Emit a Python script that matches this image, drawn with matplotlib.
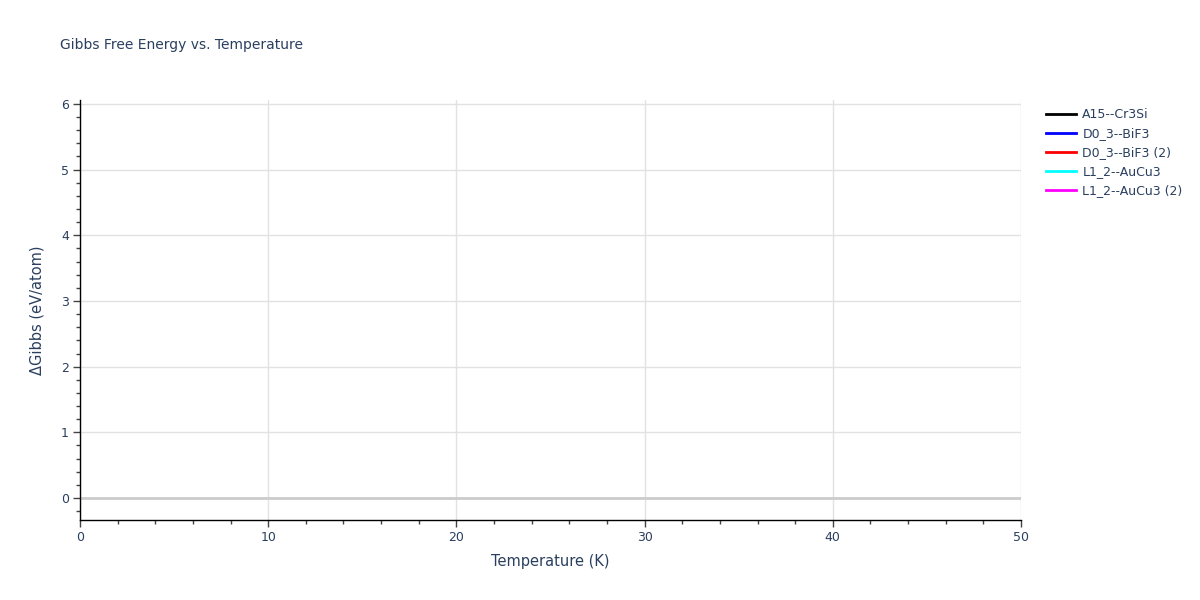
import matplotlib.pyplot as plt
from matplotlib.ticker import MultipleLocator

# series shown in the legend; the reference draws no visible data for them
series_names = ["A15--Cr3Si", "D0_3--BiF3", "D0_3--BiF3 (2)",
                "L1_2--AuCu3", "L1_2--AuCu3 (2)"]
series_colors = ["black", "blue", "red", "cyan", "magenta"]
temperature = []
gibbs = [[], [], [], [], []]

x_ticks = [0, 10, 20, 30, 40, 50]
y_ticks = [0, 1, 2, 3, 4, 5, 6]

TEXT = "#2a3f5f"
GRID = "#e2e2e2"

fig = plt.figure(figsize=(12, 6), dpi=100)
ax = fig.add_axes([80 / 1200, 80 / 600, 941 / 1200, 420 / 600])

for name, color, vals in zip(series_names, series_colors, gibbs):
    ax.plot(temperature, vals, color=color, lw=2, label=name)

ax.set_xlim(0, 50)
ax.set_ylim(-0.335, 6.06)
ax.set_xticks(x_ticks)
ax.set_yticks(y_ticks)
ax.xaxis.set_minor_locator(MultipleLocator(2))
ax.yaxis.set_minor_locator(MultipleLocator(0.2))

ax.grid(True, which="major", color=GRID, lw=1)
ax.axhline(0, color="#cccccc", lw=2, zorder=1)
ax.set_axisbelow(True)

for side in ["top", "right"]:
    ax.spines[side].set_visible(False)
for side in ["left", "bottom"]:
    ax.spines[side].set_color("black")
    ax.spines[side].set_linewidth(1)

ax.tick_params(which="major", direction="out", length=5, width=1,
               color="#444444", labelcolor=TEXT, labelsize=9, pad=3)
ax.tick_params(which="minor", direction="out", length=3, width=1,
               color="#444444")

ax.set_xlabel("Temperature (K)", color=TEXT, fontsize=10.5, labelpad=7)
ax.set_ylabel("ΔGibbs (eV/atom)", color=TEXT, fontsize=10.5, labelpad=12)

fig.text(60 / 1200, 1 - 45 / 600, "Gibbs Free Energy vs. Temperature",
         color=TEXT, fontsize=10, va="center", ha="left")

leg = fig.legend(loc="upper left", bbox_to_anchor=(1041 / 1200, 1 - 103 / 600),
                 frameon=False, fontsize=9, handlelength=2.4,
                 handletextpad=0.5, labelspacing=0.48, borderaxespad=0)
for t in leg.get_texts():
    t.set_color(TEXT)

fig.savefig("out.png", dpi=100)
